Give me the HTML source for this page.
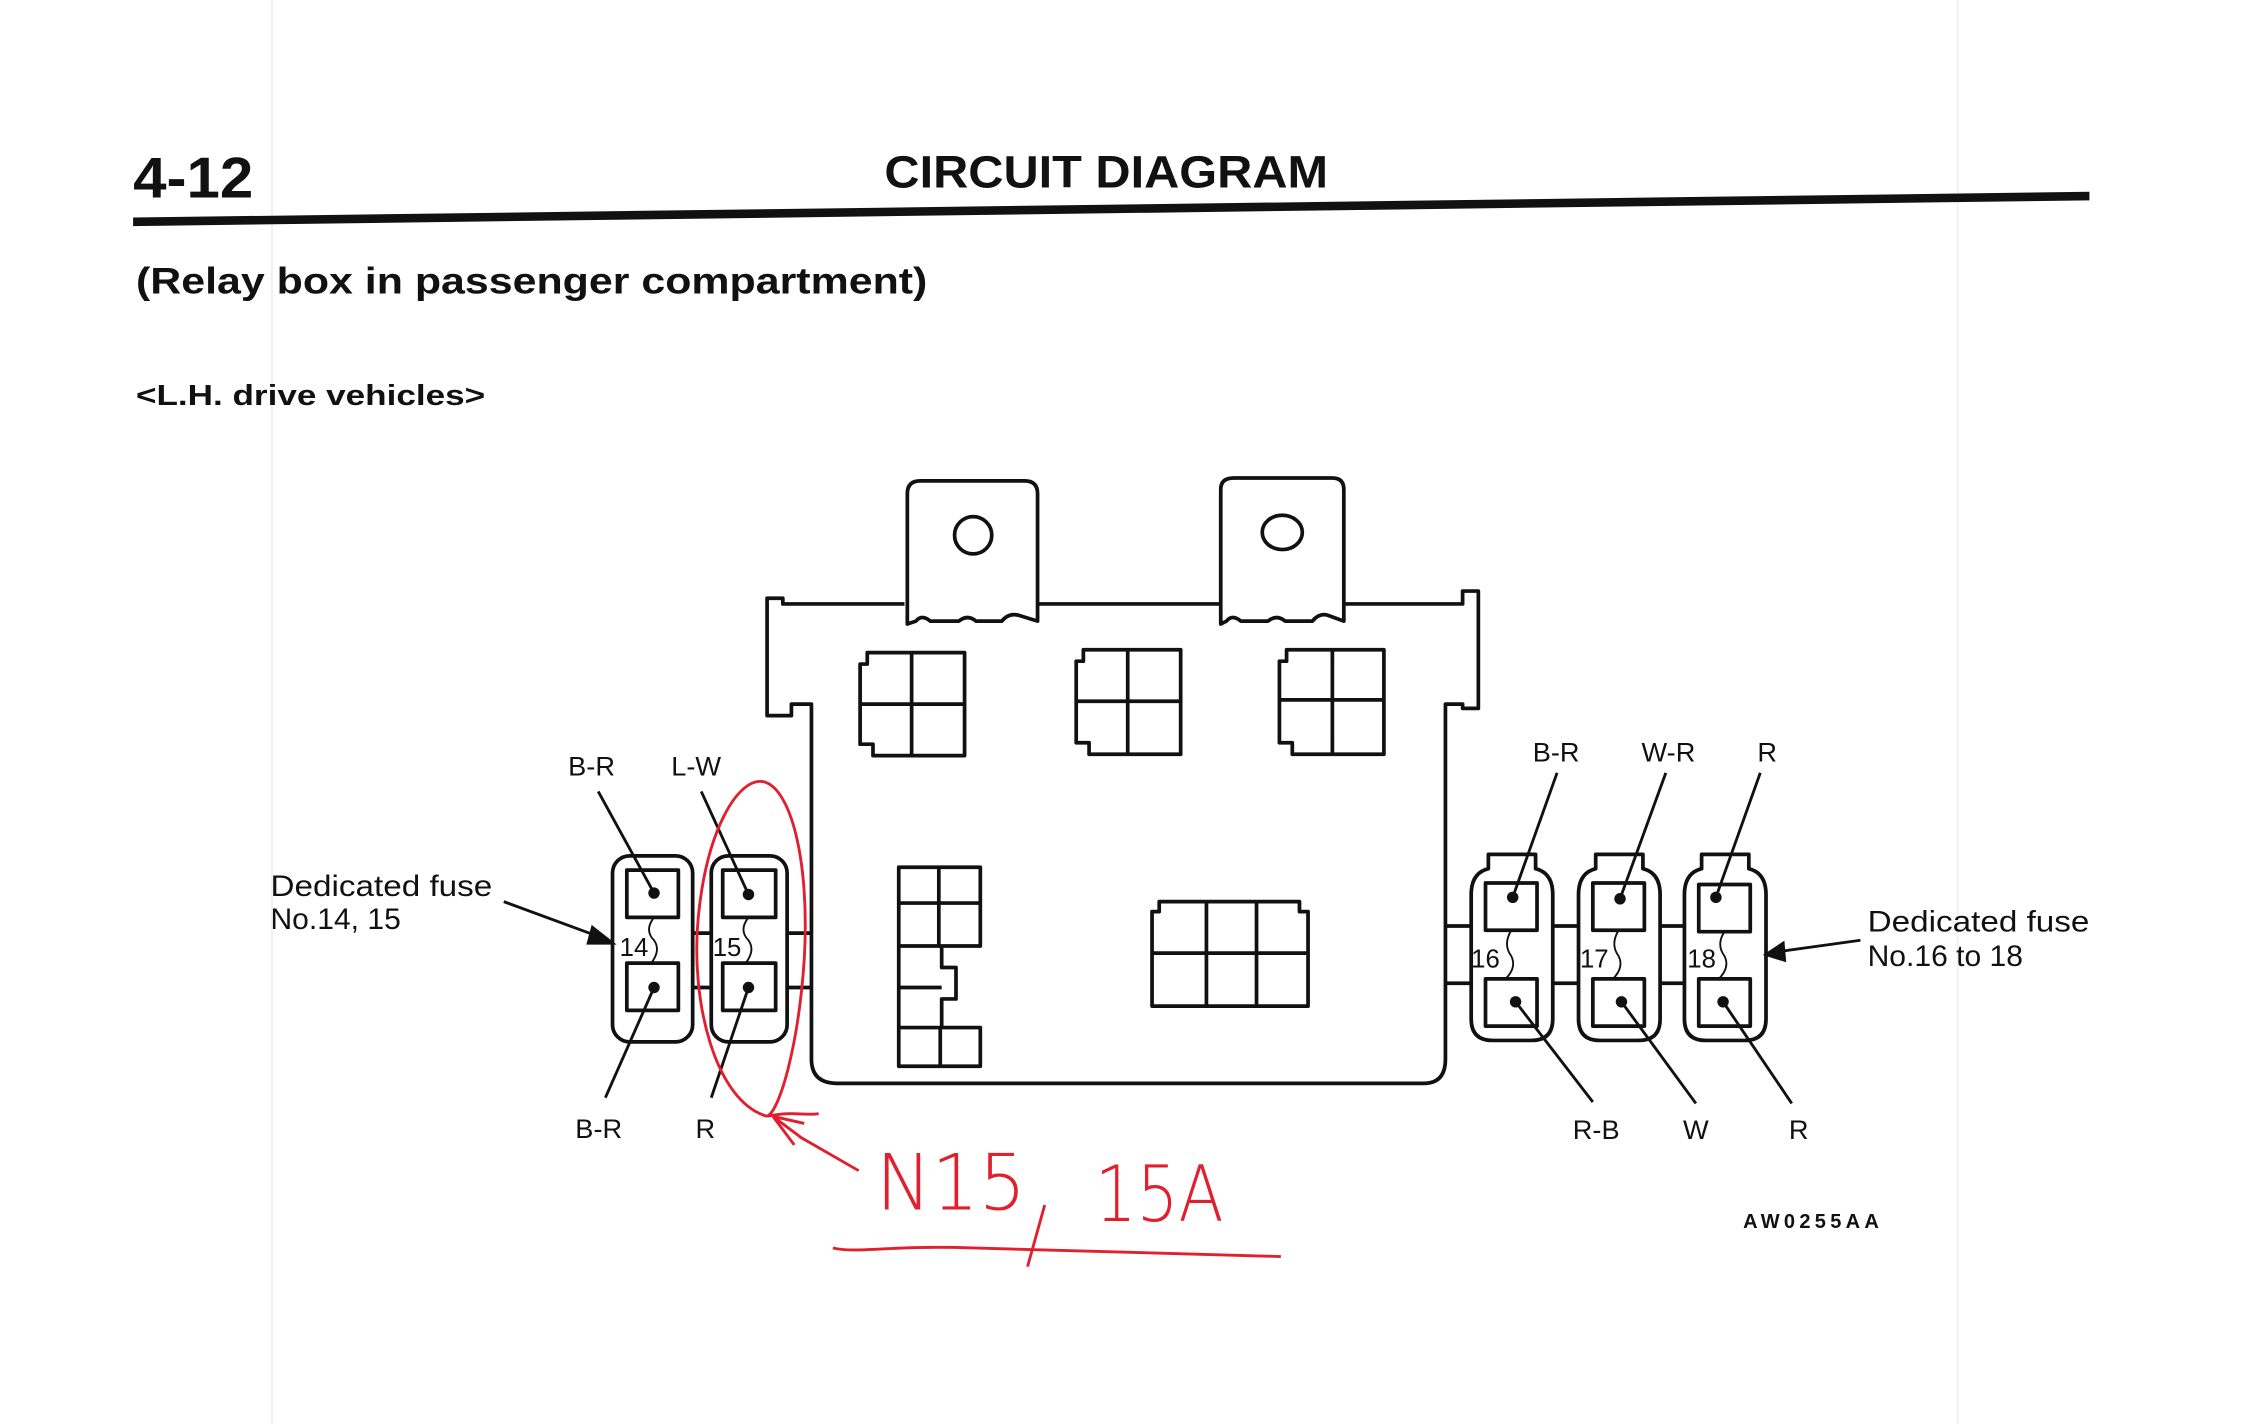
<!DOCTYPE html>
<html><head><meta charset="utf-8"><style>
html,body{margin:0;padding:0;background:#fff;}
svg{display:block;}
</style></head><body>
<svg width="2244" height="1424" viewBox="0 0 1568 995" preserveAspectRatio="none" xmlns="http://www.w3.org/2000/svg" font-family="Liberation Sans, Arial, sans-serif">
<rect width="1568" height="995" fill="#fff"/>
<line x1="190" y1="0" x2="190" y2="995" stroke="#f0f0f0" stroke-width="1.5"/>
<line x1="1368" y1="0" x2="1368" y2="995" stroke="#f2f2f2" stroke-width="1.5"/>
<!-- header -->
<text x="93" y="138" font-size="40" font-weight="bold" fill="#111" textLength="84" lengthAdjust="spacingAndGlyphs">4-12</text>
<text x="618" y="131" font-size="32" font-weight="bold" fill="#111" textLength="310" lengthAdjust="spacingAndGlyphs">CIRCUIT DIAGRAM</text>
<polygon points="93,152 1460,134 1460,140 93,158" fill="#111"/>
<text x="95" y="205" font-size="26" font-weight="bold" fill="#111" textLength="553" lengthAdjust="spacingAndGlyphs">(Relay box in passenger compartment)</text>
<text x="95" y="283" font-size="20" font-weight="bold" fill="#111" textLength="244" lengthAdjust="spacingAndGlyphs">&lt;L.H. drive vehicles&gt;</text>

<g fill="none" stroke="#111" stroke-width="2.6" stroke-linejoin="round">
<path d="M632,422 L547,422 L547,418 L536,418 L536,500 L553,500 L553,492 L567,492 L567,740 Q567,757 585,757 L995,757 Q1010,757 1010,740 L1010,492 L1022,492 L1022,495 L1033,495 L1033,413 L1022,413 L1022,422 L940,422"/>
<line x1="726" y1="422" x2="852" y2="422"/>
<path d="M634,436 L634,345 Q634,336 643,336 L716,336 Q725,336 725,345 L725,434 L712,430 Q705,428 700,434 L682,434 Q676,429 670,434 L650,434 Q644,429 640,434 Z"/>
<ellipse cx="680" cy="374" rx="13" ry="13"/>
<path d="M853,436 L853,342 Q853,334 862,334 L931,334 Q939,334 939,342 L939,434 L928,430 Q922,428 917,434 L898,434 Q892,429 886,434 L867,434 Q861,429 857,434 Z"/>
<ellipse cx="896" cy="372" rx="14" ry="12"/>
<path d="M606,456 L674,456 L674,528 L610,528 L610,520 L601,520 L601,464 L606,464 Z M637,456 L637,528 M601,492 L674,492"/>
<path d="M757,454 L825,454 L825,527 L761,527 L761,519 L752,519 L752,462 L757,462 Z M788,454 L788,527 M752,490 L825,490"/>
<path d="M899,454 L967,454 L967,527 L903,527 L903,519 L894,519 L894,462 L899,462 Z M931,454 L931,527 M894,489 L967,489"/>
<path d="M628,606 L685,606 L685,661 L658,661 L658,676 L668,676 L668,698 L658,698 L658,718 L685,718 L685,745 L628,745 Z M628,631 L685,631 M656,606 L656,661 M628,661 L658,661 M628,690 L658,690 M628,718 L658,718 M657,718 L657,745"/>
<path d="M810,630 L908,630 L908,637 L914,637 L914,703 L805,703 L805,637 L810,637 Z M805,666 L914,666 M843,630 L843,703 M878,630 L878,703"/>
<rect x="428" y="598" width="56" height="130" rx="12"/>
<rect x="438" y="608" width="36" height="33"/>
<rect x="438" y="673" width="36" height="33"/>
<rect x="497" y="598" width="53" height="130" rx="12"/>
<rect x="505" y="608" width="37" height="33"/>
<rect x="505" y="673" width="37" height="33"/>
<path d="M484,652 L497,652 M484,690 L497,690 M550,652 L567,652 M550,690 L567,690"/>
<path d="M1040,607 L1040,597 L1073,597 L1073,607 Q1085,610 1085,625 L1085,712 Q1085,727 1070,727 L1043,727 Q1028,727 1028,712 L1028,625 Q1028,610 1040,607 Z"/>
<rect x="1038" y="617" width="36" height="33"/>
<rect x="1038" y="684" width="36" height="33"/>
<path d="M1115,607 L1115,597 L1148,597 L1148,607 Q1160,610 1160,625 L1160,712 Q1160,727 1145,727 L1118,727 Q1103,727 1103,712 L1103,625 Q1103,610 1115,607 Z"/>
<rect x="1113" y="617" width="36" height="33"/>
<rect x="1113" y="684" width="36" height="33"/>
<path d="M1189,607 L1189,597 L1222,597 L1222,607 Q1234,610 1234,625 L1234,712 Q1234,727 1219,727 L1192,727 Q1177,727 1177,712 L1177,625 Q1177,610 1189,607 Z"/>
<rect x="1187" y="618" width="36" height="33"/>
<rect x="1187" y="684" width="36" height="33"/>
<path d="M1010,647 L1028,647 M1010,687 L1028,687 M1085,647 L1103,647 M1085,687 L1103,687 M1160,647 L1177,647 M1160,687 L1177,687"/>
</g>
<g fill="none" stroke="#111" stroke-width="1.3">
<path d="M457,641 Q450,650 457,657 Q462,664 455,673"/>
<path d="M523,641 Q516,650 523,657 Q528,664 521,673"/>
<path d="M1056,650 Q1050,660 1056,668 Q1060,676 1052,684"/>
<path d="M1131,650 Q1125,660 1131,668 Q1135,676 1127,684"/>
<path d="M1205,651 Q1199,660 1205,668 Q1209,676 1201,684"/>
</g>
<g stroke="#111" stroke-width="2" fill="#111">
<line x1="418" y1="553" x2="457" y2="624"/><circle cx="457" cy="624" r="3"/>
<line x1="490" y1="553" x2="523" y2="625"/><circle cx="523" cy="625" r="3"/>
<line x1="423" y1="767" x2="457" y2="690"/><circle cx="457" cy="690" r="3"/>
<line x1="497" y1="767" x2="523" y2="690"/><circle cx="523" cy="690" r="3"/>
<line x1="1088" y1="540" x2="1057" y2="627"/><circle cx="1057" cy="627" r="3"/>
<line x1="1164" y1="540" x2="1132" y2="628"/><circle cx="1132" cy="628" r="3"/>
<line x1="1230" y1="540" x2="1199" y2="627"/><circle cx="1199" cy="627" r="3"/>
<line x1="1113" y1="770" x2="1059" y2="700"/><circle cx="1059" cy="700" r="3"/>
<line x1="1185" y1="771" x2="1133" y2="700"/><circle cx="1133" cy="700" r="3"/>
<line x1="1252" y1="771" x2="1204" y2="700"/><circle cx="1204" cy="700" r="3"/>
<line x1="352" y1="630" x2="420" y2="655"/>
<polygon points="428,659 414,648 411,659"/>
<line x1="1300" y1="657" x2="1242" y2="665"/>
<polygon points="1234,667 1246,659 1247,671"/>
</g>
<g font-size="19" fill="#111">
<text x="397" y="542">B-R</text>
<text x="469" y="542">L-W</text>
<text x="402" y="795">B-R</text>
<text x="486" y="795">R</text>
<text x="433" y="668" font-size="18">14</text>
<text x="498" y="668" font-size="18">15</text>
<text x="1071" y="532">B-R</text>
<text x="1147" y="532">W-R</text>
<text x="1228" y="532">R</text>
<text x="1099" y="796">R-B</text>
<text x="1176" y="796">W</text>
<text x="1250" y="796">R</text>
<text x="1028" y="676" font-size="18">16</text>
<text x="1104" y="676" font-size="18">17</text>
<text x="1179" y="676" font-size="18">18</text>
</g>
<g font-size="21" fill="#111">
<text x="189" y="626" textLength="155" lengthAdjust="spacingAndGlyphs">Dedicated fuse</text>
<text x="189" y="649">No.14, 15</text>
<text x="1305" y="651" textLength="155" lengthAdjust="spacingAndGlyphs">Dedicated fuse</text>
<text x="1305" y="675">No.16 to 18</text>
</g>
<text x="1218" y="858" font-size="14" font-weight="bold" fill="#111" letter-spacing="3">AW0255AA</text>
<g fill="none" stroke="#e0202e" stroke-width="2">
<path d="M536,780 C500,770 482,700 488,640 C494,580 515,545 532,546 C552,548 566,600 562,670 C558,730 545,776 536,780 C555,776 565,780 572,778"/>
<path d="M600,818 L560,795 L540,780 M540,780 L555,800 M540,780 L562,785"/>
<path d="M582,872 C600,876 620,870 680,872 L895,878"/>
<path d="M730,842 L718,885"/>
</g>
<text x="612" y="845" font-size="54" fill="#e0202e" font-family="DejaVu Sans, sans-serif" font-weight="200" textLength="105" lengthAdjust="spacingAndGlyphs">N15</text>
<text x="765" y="853" font-size="54" fill="#e0202e" font-family="DejaVu Sans, sans-serif" font-weight="200" textLength="90" lengthAdjust="spacingAndGlyphs">15A</text>
</svg>
</body></html>
